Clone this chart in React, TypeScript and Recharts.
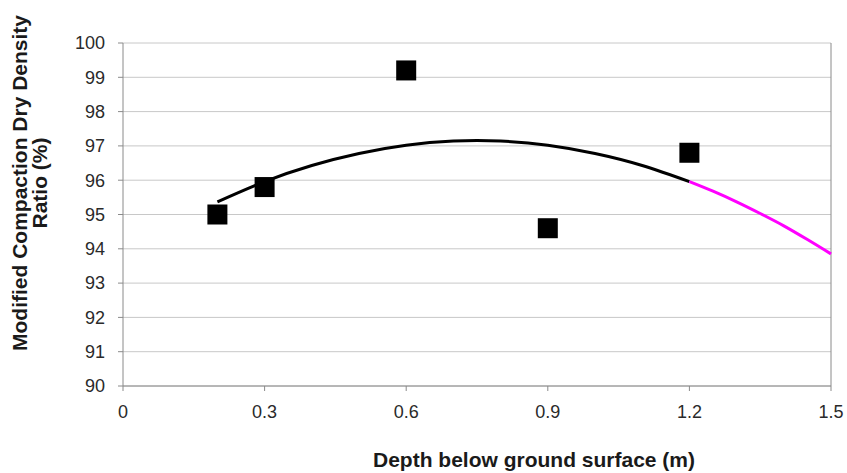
import React from 'react';
import { ComposedChart, Line, Scatter, XAxis, YAxis, CartesianGrid, ReferenceLine } from 'recharts';

// measured points
const depths = [0.2, 0.3, 0.6, 0.9, 1.2];
const ratios = [95.0, 95.8, 99.2, 94.6, 96.8];

// trend curve (black part, then magenta extension)
const trendDepths = [0.2, 0.3, 0.4, 0.5, 0.6, 0.7, 0.8, 0.9, 1.0, 1.1, 1.2];
const trendRatios = [95.37, 95.96, 96.43, 96.78, 97.02, 97.14, 97.14, 97.02, 96.78, 96.43, 95.96];
const extDepths = [1.2, 1.25, 1.3, 1.35, 1.4, 1.45, 1.5];
const extRatios = [95.96, 95.68, 95.37, 95.03, 94.67, 94.27, 93.85];

const xTicks = [0, 0.3, 0.6, 0.9, 1.2, 1.5];
const yTicks = [90, 91, 92, 93, 94, 95, 96, 97, 98, 99, 100];

const points = depths.map((x, i) => ({ x, y: ratios[i] }));
const trend = trendDepths.map((x, i) => ({ x, y: trendRatios[i] }));
const ext = extDepths.map((x, i) => ({ x, y: extRatios[i] }));

const font = 'Liberation Sans, Arial, sans-serif';

const Square = (p: any) => <rect x={p.cx - 10} y={p.cy - 10} width={20} height={20} fill="#000" />;

const YLabel = () => (
  <g transform="translate(27,183) rotate(-90)">
    <text x={0} y={0} textAnchor="middle" fontFamily={font} fontWeight="bold" fontSize={21} fill="#1a1a1a">
      Modified Compaction Dry Density
    </text>
    <text x={0} y={20} textAnchor="middle" fontFamily={font} fontWeight="bold" fontSize={21} fill="#1a1a1a">
      Ratio (%)
    </text>
  </g>
);

const XLabel = () => (
  <text x={534} y={467} textAnchor="middle" fontFamily={font} fontWeight="bold" fontSize={21} fill="#1a1a1a">
    Depth below ground surface (m)
  </text>
);

export default function App() {
  return (
    <div style={{ position: 'absolute', left: 0, top: 0, background: '#fff' }}>
      <ComposedChart width={847} height={473} margin={{ top: 43, right: 16, bottom: 57, left: 63 }}>
        <CartesianGrid horizontal vertical={false} stroke="#c8c8c8" />
        <XAxis
          type="number"
          dataKey="x"
          domain={[0, 1.5]}
          ticks={xTicks}
          height={30}
          stroke="#8a8a8a"
          tickSize={5}
          tickMargin={14}
          tick={{ fontFamily: font, fontSize: 18, fill: '#2a2a2a' }}
          tickFormatter={(v: number) => String(v)}
          label={<XLabel />}
        />
        <YAxis
          type="number"
          dataKey="y"
          domain={[90, 100]}
          ticks={yTicks}
          width={60}
          stroke="#8a8a8a"
          tickSize={5}
          tickMargin={13}
          tick={{ fontFamily: font, fontSize: 18, fill: '#2a2a2a' }}
          label={<YLabel />}
        />
        <ReferenceLine x={1.5} stroke="#8a8a8a" />
        <Line data={trend} dataKey="y" type="natural" stroke="#000" strokeWidth={3} dot={false} isAnimationActive={false} />
        <Line data={ext} dataKey="y" type="monotoneX" stroke="#ff00ff" strokeWidth={3} dot={false} isAnimationActive={false} />
        <Scatter data={points} dataKey="y" shape={Square} isAnimationActive={false} />
      </ComposedChart>
    </div>
  );
}
